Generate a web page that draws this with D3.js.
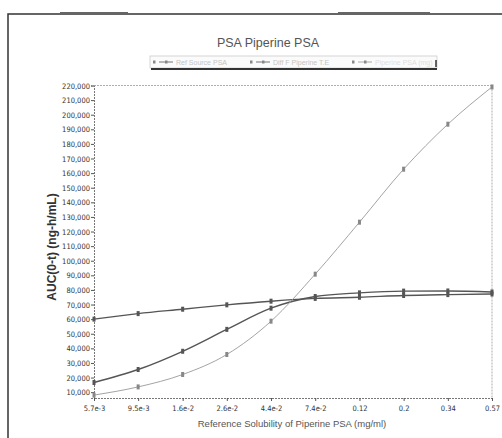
<!DOCTYPE html>
<html>
<head>
<meta charset="utf-8">
<script src="https://cdn.jsdelivr.net/npm/d3@7"></script>
<style>
  body { margin: 0; background: #fff; }
  svg { display: block; font-family: "Liberation Sans", Arial, sans-serif; }
</style>
</head>
<body>
<script>
// solubility values (mg/ml) and their printed labels
const solubility = [0.0057, 0.0095, 0.0159, 0.0265, 0.0442, 0.0737, 0.123, 0.205, 0.342, 0.57]
const tickLabels = ["5.7e-3", "9.5e-3", "1.6e-2", "2.6e-2", "4.4e-2", "7.4e-2", "0.12", "0.2", "0.34", "0.57"]
const yTicks = d3.range(10000, 220001, 10000)

// AUC(0-t) series
const flatSeries = [60000, 63800, 66800, 69800, 72300, 74200, 75000, 76200, 76800, 77200]
const midSeries = [16600, 25500, 38000, 53000, 67500, 75500, 78000, 79200, 79300, 78600]
const steepSeries = [8000, 13600, 22100, 35800, 58600, 90800, 126400, 162700, 193500, 219000]

const seriesNames = ["Ref Source PSA", "Diff F Piperine T.E", "Piperine PSA (mg)"]

const width = 502, height = 438

const svg = d3.select("body").append("svg")
    .attr("width", width)
    .attr("height", height)

// scanned page frame
svg.append("path")
    .attr("d", "M8,438 L8,14 L502,14")
    .attr("fill", "none")
    .attr("stroke", "#333")
    .attr("stroke-width", 1.5)
svg.append("line").attr("x1", 60).attr("x2", 128).attr("y1", 12.5).attr("y2", 12.5)
    .attr("stroke", "#666").attr("stroke-width", 1)
svg.append("line").attr("x1", 338).attr("x2", 430).attr("y1", 12.5).attr("y2", 12.5)
    .attr("stroke", "#666").attr("stroke-width", 1)

let x = d3.scaleLog().domain([0.0057, 0.57]).range([94, 492])
let y = d3.scaleLinear().domain([6000, 220000]).range([398, 85.5])

// title
svg.append("text")
    .attr("x", 268).attr("y", 47)
    .attr("text-anchor", "middle")
    .attr("font-size", 12.5)
    .attr("fill", "#555")
    .text("PSA Piperine PSA")

// legend box
let legend = svg.append("g")
legend.append("rect")
    .attr("x", 150).attr("y", 56).attr("width", 287).attr("height", 12)
    .attr("fill", "#fbfbfb").attr("stroke", "#ccc").attr("stroke-width", 0.8)
legend.append("line")
    .attr("x1", 151).attr("x2", 437).attr("y1", 69).attr("y2", 69)
    .attr("stroke", "#333").attr("stroke-width", 2)
legend.append("line")
    .attr("x1", 436).attr("x2", 436).attr("y1", 60).attr("y2", 67)
    .attr("stroke", "#333").attr("stroke-width", 1.5)
const legendX = [153, 250, 352]
seriesNames.forEach((name, i) => {
    let g = legend.append("g").attr("transform", `translate(${legendX[i]},62)`)
    g.append("line").attr("x1", 6).attr("x2", 20).attr("y1", 0).attr("y2", 0)
        .attr("stroke", i == 2 ? "#aaa" : "#777").attr("stroke-width", 1)
    g.append("rect").attr("x", 0).attr("y", -1.5).attr("width", 2.5).attr("height", 3).attr("fill", "#888")
    g.append("rect").attr("x", 12).attr("y", -1.5).attr("width", 2.5).attr("height", 3).attr("fill", "#888")
    g.append("text").attr("x", 23).attr("y", 2.5)
        .attr("font-size", 7).attr("fill", i == 2 ? "#ddd" : "#c4c4c4")
        .text(name)
})

// plot frame (dotted)
svg.append("path")
    .attr("d", `M${x.range()[0]},${y.range()[1]} H${x.range()[1]} V${y.range()[0]}`)
    .attr("fill", "none").attr("stroke", "#999").attr("stroke-width", 0.8)
    .attr("stroke-dasharray", "2,1")

// axes
let yAxis = svg.append("g")
    .attr("transform", `translate(${x.range()[0]},0)`)
    .call(d3.axisLeft(y).tickValues(yTicks).tickSize(3).tickPadding(1)
        .tickFormat(d3.format(",")))
let xAxis = svg.append("g")
    .attr("transform", `translate(0,${y.range()[0]})`)
    .call(d3.axisBottom(x).tickValues(solubility).tickSize(3).tickPadding(5)
        .tickFormat((d, i) => tickLabels[i]))

for (let ax of [xAxis, yAxis]) {
    ax.select(".domain").attr("stroke", "#777").attr("stroke-dasharray", "2,1")
    ax.selectAll(".tick line").attr("stroke", "#555")
    ax.selectAll("text")
        .attr("font-family", "'DejaVu Sans Condensed', 'Liberation Sans Narrow', sans-serif")
        .attr("font-size", 7.5)
        .attr("fill", "#333")
}
yAxis.selectAll("text").attr("dy", "0.35em")

// axis titles
svg.append("text")
    .attr("transform", "translate(56,247) rotate(-90)")
    .attr("text-anchor", "middle")
    .attr("font-size", 12)
    .attr("font-weight", "bold")
    .attr("fill", "#333")
    .text("AUC(0-t) (ng-h/mL)")
svg.append("text")
    .attr("x", 292).attr("y", 427)
    .attr("text-anchor", "middle")
    .attr("font-size", 9.5)
    .attr("fill", "#555")
    .text("Reference Solubility of Piperine PSA (mg/ml)")

// series
let line = d3.line()
    .x((d, i) => x(solubility[i]))
    .y(d => y(d))
    .curve(d3.curveMonotoneX)

const series = [
    { values: flatSeries, color: "#555", w: 1.4 },
    { values: midSeries, color: "#555", w: 1.4 },
    { values: steepSeries, color: "#999", w: 0.9 }
]

series.forEach(s => {
    svg.append("path")
        .datum(s.values)
        .attr("d", line)
        .attr("fill", "none")
        .attr("stroke", s.color)
        .attr("stroke-width", s.w)
    svg.append("g").selectAll("rect")
        .data(s.values).enter()
        .append("rect")
            .attr("x", (d, i) => x(solubility[i]) - 1.5)
            .attr("y", d => y(d) - 2.5)
            .attr("width", 3)
            .attr("height", 5)
            .attr("fill", s.color == "#555" ? "#555" : "#888")
})
</script>
</body>
</html>
